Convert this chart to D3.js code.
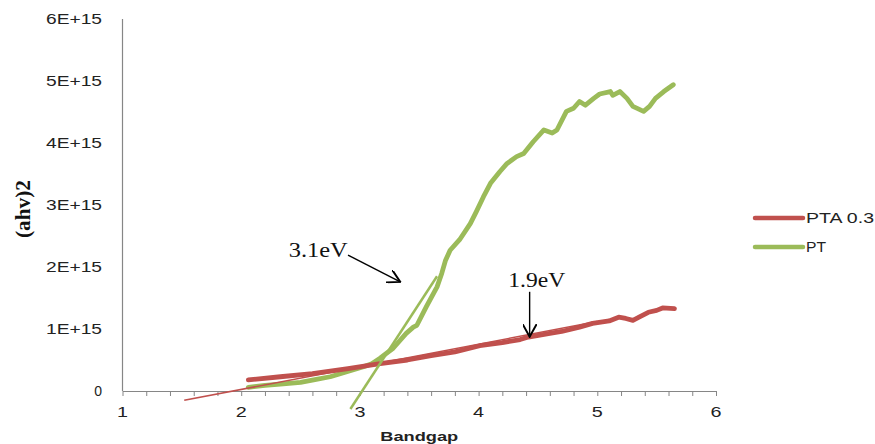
<!DOCTYPE html>
<html>
<head>
<meta charset="utf-8">
<script src="https://cdn.jsdelivr.net/npm/d3@7"></script>
<style>
  body { margin: 0; background: #fff; }
  svg { display: block; }
</style>
</head>
<body>
<svg width="875" height="444"></svg>
<script>
// series data (y in units of 1E+15)
var ptaX = [2.06, 2.33, 2.6, 2.9, 3.17, 3.4, 3.6, 3.8, 4.01, 4.2, 4.35, 4.42, 4.6, 4.7, 4.85, 4.96, 5.1, 5.18, 5.24, 5.3, 5.36, 5.43, 5.5, 5.55, 5.65];
var ptaY = [0.18, 0.23, 0.28, 0.36, 0.44, 0.5, 0.57, 0.63, 0.73, 0.78, 0.83, 0.87, 0.93, 0.96, 1.03, 1.09, 1.13, 1.19, 1.17, 1.14, 1.2, 1.27, 1.3, 1.34, 1.33];
var ptX = [2.06, 2.2, 2.33, 2.5, 2.61, 2.75, 2.89, 3.03, 3.1, 3.17, 3.28, 3.39, 3.45, 3.48, 3.56, 3.65, 3.69, 3.72, 3.76, 3.84, 3.93, 3.98, 4.04, 4.1, 4.18, 4.24, 4.32, 4.38, 4.46, 4.55, 4.62, 4.66, 4.74, 4.8, 4.85, 4.9, 4.97, 5.02, 5.11, 5.13, 5.19, 5.25, 5.3, 5.39, 5.44, 5.49, 5.56, 5.64];
var ptY = [0.06, 0.09, 0.11, 0.14, 0.18, 0.23, 0.31, 0.39, 0.44, 0.53, 0.69, 0.93, 1.03, 1.06, 1.36, 1.68, 1.9, 2.1, 2.27, 2.44, 2.7, 2.89, 3.13, 3.35, 3.54, 3.67, 3.78, 3.83, 4.02, 4.21, 4.16, 4.21, 4.51, 4.56, 4.67, 4.61, 4.72, 4.79, 4.83, 4.77, 4.83, 4.72, 4.59, 4.51, 4.59, 4.72, 4.83, 4.94];

// tangent (extrapolation) lines, [x, y] end points
var ptaFit = [[1.52, -0.15], [5.0, 1.12]];
var ptFit = [[2.92, -0.29], [3.65, 1.85]];

var seriesNames = ["PTA 0.3", "PT"];
var seriesColors = ["#C0504D", "#9BBB59"];
var yTicks = [0, 1, 2, 3, 4, 5, 6];
var yTickLabels = ["0", "1E+15", "2E+15", "3E+15", "4E+15", "5E+15", "6E+15"];
var xTicks = [1, 2, 3, 4, 5, 6];

var svg = d3.select("svg");

var x = d3.scaleLinear().domain([1, 6]).range([122.5, 716]);
var y = d3.scaleLinear().domain([0, 6]).range([391, 19]);

// y axis: line + labels only
svg.append("line")
    .attr("x1", x(1)).attr("x2", x(1))
    .attr("y1", y(6)).attr("y2", y(0))
    .attr("stroke", "#868686").attr("stroke-width", 1.2);

svg.append("g").selectAll("text")
  .data(yTicks)
  .enter().append("text")
    .attr("x", 102)
    .attr("y", function(d) { return y(d); })
    .attr("dy", "0.36em")
    .attr("text-anchor", "end")
    .attr("font-family", "Liberation Sans, Arial, sans-serif")
    .attr("font-size", 14)
    .attr("fill", "#222")
    .attr("textLength", function(d, i) { return yTickLabels[i].length == 1 ? null : 56; })
    .attr("lengthAdjust", "spacingAndGlyphs")
    .text(function(d, i) { return yTickLabels[i]; });

// x axis with minor ticks
var xAxis = d3.axisBottom(x)
    .tickValues(d3.range(1, 6.01, 0.2))
    .tickSize(5)
    .tickSizeOuter(0)
    .tickFormat("");

var xg = svg.append("g")
    .attr("transform", "translate(0," + y(0) + ")")
    .call(xAxis);
xg.select(".domain").attr("stroke", "#868686").attr("stroke-width", 1.2);
xg.selectAll(".tick line").attr("stroke", "#868686");

svg.append("g").selectAll("text")
  .data(xTicks)
  .enter().append("text")
    .attr("x", function(d) { return x(d); })
    .attr("y", 417)
    .attr("text-anchor", "middle")
    .attr("font-family", "Liberation Sans, Arial, sans-serif")
    .attr("font-size", 15)
    .attr("fill", "#222")
    .attr("textLength", 11)
    .attr("lengthAdjust", "spacingAndGlyphs")
    .text(function(d) { return d; });

// axis titles
svg.append("text")
    .attr("x", (x(1) + x(6)) / 2)
    .attr("y", 441)
    .attr("text-anchor", "middle")
    .attr("font-family", "Liberation Sans, Arial, sans-serif")
    .attr("font-weight", "bold")
    .attr("font-size", 13)
    .attr("fill", "#222")
    .attr("textLength", 78)
    .attr("lengthAdjust", "spacingAndGlyphs")
    .text("Bandgap");

svg.append("text")
    .attr("transform", "translate(30,209) rotate(-90)")
    .attr("text-anchor", "middle")
    .attr("font-family", "Liberation Serif, Times New Roman, serif")
    .attr("font-weight", "bold")
    .attr("font-size", 20)
    .attr("fill", "#111")
    .attr("textLength", 58)
    .attr("lengthAdjust", "spacingAndGlyphs")
    .text("(ahv)2");

var line = d3.line()
    .x(function(d) { return x(d[0]); })
    .y(function(d) { return y(d[1]); })
    .curve(d3.curveLinear);

var ptaData = ptaX.map(function(v, i) { return [v, ptaY[i]]; });
var ptData = ptX.map(function(v, i) { return [v, ptY[i]]; });

var plot = svg.append("g");

plot.append("path")
    .datum(ptData)
    .attr("d", line)
    .attr("fill", "none")
    .attr("stroke", seriesColors[1])
    .attr("stroke-width", 4.8)
    .attr("stroke-linejoin", "round")
    .attr("stroke-linecap", "round");

plot.append("path")
    .datum(ptaData)
    .attr("d", line)
    .attr("fill", "none")
    .attr("stroke", seriesColors[0])
    .attr("stroke-width", 4.8)
    .attr("stroke-linejoin", "round")
    .attr("stroke-linecap", "round");

plot.append("path")
    .datum(ptaFit)
    .attr("d", line)
    .attr("fill", "none")
    .attr("stroke", seriesColors[0])
    .attr("stroke-width", 1.5);

plot.append("path")
    .datum(ptFit)
    .attr("d", line)
    .attr("fill", "none")
    .attr("stroke", seriesColors[1])
    .attr("stroke-width", 2.5);

// annotations
svg.append("defs").append("marker")
    .attr("id", "arrow")
    .attr("viewBox", "0 0 10 10")
    .attr("refX", 9).attr("refY", 5)
    .attr("markerWidth", 14).attr("markerHeight", 14)
    .attr("markerUnits", "userSpaceOnUse")
    .attr("orient", "auto")
  .append("path")
    .attr("d", "M0,0 L9,5 L0,10")
    .attr("fill", "none")
    .attr("stroke", "#000")
    .attr("stroke-width", 1.4);

var notes = [
  {text: "3.1eV", tx: 2.4, ty: 2.16, len: 59, from: [2.9, 2.19], to: [3.34, 1.76]},
  {text: "1.9eV", tx: 4.25, ty: 1.68, len: 57, from: [4.43, 1.6], to: [4.43, 0.875]}
];

notes.forEach(function(n) {
  svg.append("text")
      .attr("x", x(n.tx))
      .attr("y", y(n.ty))
      .attr("font-family", "Liberation Serif, Times New Roman, serif")
      .attr("font-size", 20)
      .attr("fill", "#111")
      .attr("textLength", n.len)
      .attr("lengthAdjust", "spacingAndGlyphs")
      .text(n.text);
  svg.append("line")
      .attr("x1", x(n.from[0])).attr("y1", y(n.from[1]))
      .attr("x2", x(n.to[0])).attr("y2", y(n.to[1]))
      .attr("stroke", "#000")
      .attr("stroke-width", 1.4)
      .attr("marker-end", "url(#arrow)");
});

// legend
var legend = svg.append("g").selectAll("g")
  .data(seriesNames)
  .enter().append("g")
    .attr("transform", function(d, i) { return "translate(755," + (218 + i * 29) + ")"; });

legend.append("line")
    .attr("x1", 0).attr("x2", 48)
    .attr("stroke", function(d, i) { return seriesColors[i]; })
    .attr("stroke-width", 4.5)
    .attr("stroke-linecap", "round");

legend.append("text")
    .attr("x", 51)
    .attr("dy", "0.36em")
    .attr("font-family", "Liberation Sans, Arial, sans-serif")
    .attr("font-size", 14)
    .attr("fill", "#222")
    .attr("textLength", function(d) { return d.length > 2 ? 68 : 20; })
    .attr("lengthAdjust", "spacingAndGlyphs")
    .text(function(d) { return d; });
</script>
</body>
</html>
